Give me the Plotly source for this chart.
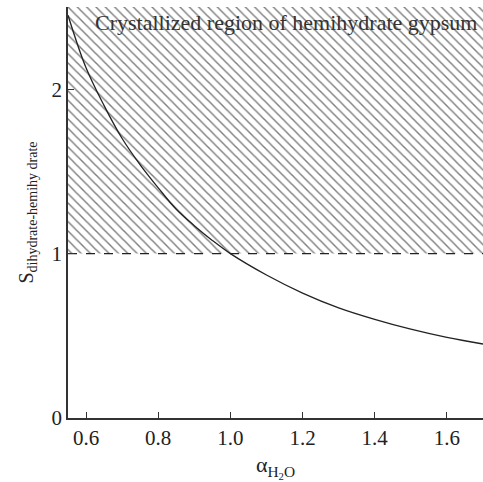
import plotly.graph_objects as go

# Data
alpha = [0.55, 0.60, 0.65, 0.70, 0.75, 0.80, 0.85, 0.90, 0.95, 1.00,
         1.10, 1.20, 1.30, 1.40, 1.50, 1.60, 1.70]
s_val = [2.45, 2.13, 1.90, 1.70, 1.54, 1.40, 1.27, 1.17, 1.08, 1.00,
         0.87, 0.76, 0.67, 0.60, 0.54, 0.49, 0.45]
x_range = [0.55, 1.70]
y_range = [0.0, 2.5]
threshold = 1.0
x_ticks = [0.6, 0.8, 1.0, 1.2, 1.4, 1.6]
y_ticks = [0, 1, 2]
region_label = "Crystallized region of hemihydrate gypsum"

FONT = "Liberation Serif, Times New Roman, serif"

fig = go.Figure()

# hatched region
fig.add_trace(go.Scatter(
    x=[x_range[0], x_range[1], x_range[1], x_range[0], x_range[0]],
    y=[threshold, threshold, y_range[1], y_range[1], threshold],
    mode="lines", line=dict(width=0, color="rgba(0,0,0,0)"),
    fill="toself", fillcolor="white",
    fillpattern=dict(shape="\\", size=6.6, solidity=0.22,
                     fgcolor="#000", bgcolor="white"),
    hoverinfo="skip", showlegend=False))

# dashed threshold line
fig.add_trace(go.Scatter(
    x=x_range, y=[threshold, threshold], mode="lines",
    line=dict(color="#222", width=1.2, dash="dash"),
    showlegend=False))

# curve
fig.add_trace(go.Scatter(
    x=alpha, y=s_val, mode="lines",
    line=dict(color="#222", width=1.3, shape="spline"),
    showlegend=False))

fig.add_annotation(
    x=1.0, xref="paper", y=1.0, yref="paper",
    xanchor="right", yanchor="top", xshift=-4, yshift=-1,
    text=region_label, showarrow=False,
    font=dict(family=FONT, size=22, color="#333"))

axis_common = dict(
    showline=True, linecolor="#333", linewidth=1.5,
    ticks="inside", ticklen=6, tickcolor="#333", tickwidth=1.3,
    showgrid=False, zeroline=False, mirror=False,
    tickfont=dict(family=FONT, size=21, color="#222"))

fig.update_xaxes(range=x_range, tickvals=x_ticks,
                 ticktext=[f"{v:.1f}" for v in x_ticks],
                 title=dict(text="α<sub>H<sub>2</sub>O</sub>",
                            font=dict(family=FONT, size=22, color="#222"),
                            standoff=10),
                 **axis_common)
fig.update_yaxes(range=y_range, tickvals=y_ticks,
                 ticktext=[str(v) for v in y_ticks],
                 title=dict(text="S<sub>dihydrate-hemihy drate</sub>",
                            font=dict(family=FONT, size=20, color="#222"),
                            standoff=13),
                 **axis_common)

fig.update_layout(
    width=483, height=482,
    margin=dict(l=68, r=0, t=7, b=64),
    paper_bgcolor="white", plot_bgcolor="white",
    font=dict(family=FONT),
)

fig.write_html("out.html")
